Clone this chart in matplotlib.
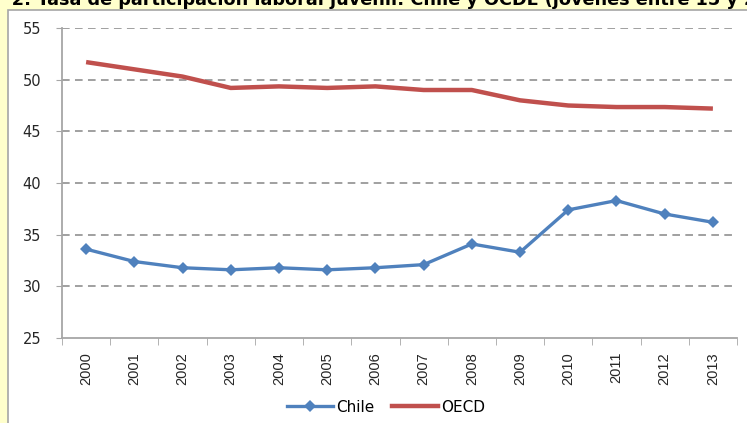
import matplotlib
matplotlib.use('Agg')
import matplotlib.pyplot as plt
import numpy as np
from matplotlib.patches import Rectangle
from matplotlib.lines import Line2D

# datos
years = ['2000', '2001', '2002', '2003', '2004', '2005', '2006',
         '2007', '2008', '2009', '2010', '2011', '2012', '2013']
chile = [33.6, 32.4, 31.8, 31.6, 31.8, 31.6, 31.8,
         32.1, 34.1, 33.3, 37.4, 38.3, 37.0, 36.2]
oecd = [51.7, 51.0, 50.3, 49.2, 49.35, 49.2, 49.35,
        49.0, 49.0, 48.0, 47.5, 47.35, 47.35, 47.2]
yticks = [25, 30, 35, 40, 45, 50, 55]
title = 'N° 2: Tasa de participación laboral juvenil: Chile y OCDE (jóvenes entre 15 y 24 años)'

W, H = 747, 423
fig = plt.figure(figsize=(W / 100, H / 100), dpi=100)
fig.patch.set_facecolor('#FFFFCC')

# caja blanca del grafico
fig.patches.append(Rectangle((8 / W, -0.05), 1.0, 1 - 10 / H + 0.05,
                             transform=fig.transFigure, facecolor='white',
                             edgecolor='#A6A6A6', linewidth=1.2, zorder=-5))

# titulo cortado arriba
fig.text(-18 / W, 1 - 5 / H, title, fontsize=12.7, fontweight='bold',
         color='black', ha='left', va='baseline')

ax = fig.add_axes([62 / W, 1 - 338 / H, (737 - 62) / W, (338 - 28) / H])
ax.set_facecolor('white')
x = np.arange(len(years))

ax.plot(x, oecd, color='#C0504D', lw=3.2, solid_capstyle='butt', zorder=3)
ax.plot(x, chile, color='#4F81BD', lw=2.4, marker='D', markersize=6.5,
        markeredgewidth=0, zorder=4)

ax.set_xlim(-0.5, len(years) - 0.5)
ax.set_ylim(25, 55)
ax.set_yticks(yticks)
ax.set_yticklabels([str(v) for v in yticks], fontsize=10.5, color='#262626')
ax.set_xticks(x)
ax.set_xticklabels(years, rotation=90, fontsize=10.5, family='Liberation Sans',
                   color='#262626', va='top')
ax.set_xticks(np.arange(-0.5, len(years)), minor=True)
ax.tick_params(axis='x', which='major', length=0, pad=10)
ax.tick_params(axis='x', which='minor', length=5, color='#A6A6A6', direction='out')
ax.tick_params(axis='y', length=4, color='#A6A6A6', direction='out', pad=11)

for v in yticks[1:]:
    ax.axhline(v, color='#868686', lw=1.1, ls=(0, (5, 3.5)), zorder=1)

for s in ['top', 'right']:
    ax.spines[s].set_visible(False)
for s in ['left', 'bottom']:
    ax.spines[s].set_color('#A6A6A6')
    ax.spines[s].set_linewidth(1.3)

handles = [Line2D([], [], color='#4F81BD', lw=2.4, marker='D', markersize=6.5,
                  markeredgewidth=0),
           Line2D([], [], color='#C0504D', lw=3.2)]
fig.legend(handles, ['Chile', 'OECD'], loc='center', bbox_to_anchor=(386 / W, 1 - 407 / H),
           ncol=2, frameon=False, fontsize=11, handlelength=3.0,
           handletextpad=0.2, columnspacing=1.2)

fig.savefig('out.png', dpi=100, facecolor=fig.get_facecolor())
